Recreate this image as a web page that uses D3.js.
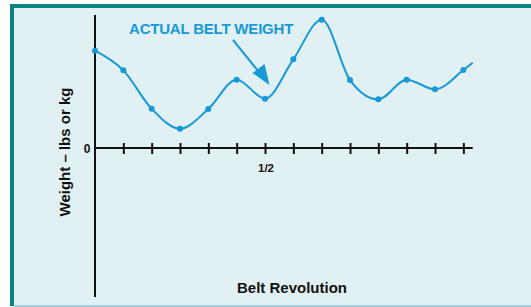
<!DOCTYPE html>
<html lang="en">
<head>
<meta charset="utf-8">
<title>Actual Belt Weight</title>
<script src="https://cdn.jsdelivr.net/npm/d3@7"></script>
<style>
  body { margin: 0; background: #fff; }
  svg { display: block; font-family: "Liberation Sans", Arial, sans-serif; }
</style>
</head>
<body>
<div id="chart"></div>
<script>
// tick positions along the belt (12 ticks = one revolution)
const positions = [0, 1, 2, 3, 4, 5, 6, 7, 8, 9, 10, 11, 12, 13, 13.33];
const weights = [73.2, 58.4, 29.5, 14.5, 29.3, 51.4, 37.1, 66.7, 96.5, 51.1, 36.6, 51.4, 44.1, 58.6, 64.1];
const tickValues = [1, 2, 3, 4, 5, 6, 7, 8, 9, 10, 11, 12, 13];
const tickLabels = {6: "1/2"};

const w = 531, h = 307;
const blue = "#1699d6";

const svg = d3.select("#chart").append("svg")
  .attr("width", w)
  .attr("height", h);

// panel background and frame
svg.append("rect").attr("x", 0).attr("y", 0).attr("width", w).attr("height", h).attr("fill", "#fff");
svg.append("rect").attr("x", 10).attr("y", 4).attr("width", w - 10).attr("height", 302).attr("fill", "#e1f0f2");
svg.append("rect").attr("x", 10).attr("y", 4).attr("width", w - 10).attr("height", 4).attr("fill", "#0a8383");
svg.append("rect").attr("x", 10).attr("y", 4).attr("width", 4).attr("height", 302).attr("fill", "#0a8383");
svg.append("rect").attr("x", 14).attr("y", 305).attr("width", w - 14).attr("height", 2).attr("fill", "#9fd0d8");

const x = d3.scaleLinear().domain([0, 13.33]).range([95, 472.7]);
const y = d3.scaleLinear().domain([-112, 100]).range([297, 15]);

// y axis line
svg.append("line")
  .attr("x1", x(0)).attr("x2", x(0))
  .attr("y1", y(-112)).attr("y2", y(100))
  .attr("stroke", "#111").attr("stroke-width", 2);

// x axis with ticks crossing the line
const xAxis = d3.axisBottom(x)
  .tickValues(tickValues)
  .tickSize(0)
  .tickFormat("");

const gx = svg.append("g")
  .attr("transform", `translate(0,${y(0)})`)
  .call(xAxis);
gx.select(".domain").remove();
gx.append("line")
  .attr("x1", x(0)).attr("x2", x(13.33))
  .attr("stroke", "#111").attr("stroke-width", 2);
gx.selectAll(".tick line")
  .attr("y1", -5).attr("y2", 6)
  .attr("stroke", "#111").attr("stroke-width", 2);

svg.selectAll(".xlab")
  .data(tickValues.filter(d => tickLabels[d]))
  .enter().append("text")
  .attr("class", "xlab")
  .attr("x", d => x(d) + 1)
  .attr("y", y(0) + 24)
  .attr("text-anchor", "middle")
  .attr("font-size", 11.5).attr("font-weight", "bold").attr("fill", "#111")
  .text(d => tickLabels[d]);

svg.append("text")
  .attr("x", 87).attr("y", y(0) + 4.5)
  .attr("text-anchor", "middle")
  .attr("font-size", 12).attr("font-weight", "bold").attr("fill", "#111")
  .text("0");

// axis titles
svg.append("text")
  .attr("x", 292).attr("y", 293)
  .attr("text-anchor", "middle")
  .attr("font-size", 15).attr("font-weight", "bold").attr("fill", "#111")
  .text("Belt Revolution");

svg.append("text")
  .attr("transform", "translate(70,152) rotate(-90)")
  .attr("text-anchor", "middle")
  .attr("font-size", 15).attr("font-weight", "bold").attr("fill", "#111")
  .text("Weight \u2013 lbs or kg");

// curve
const line = d3.line()
  .x((d, i) => x(positions[i]))
  .y(d => y(d))
  .curve(d3.curveMonotoneX);

svg.append("path")
  .datum(weights)
  .attr("d", line)
  .attr("fill", "none")
  .attr("stroke", blue)
  .attr("stroke-width", 2);

svg.selectAll(".dot")
  .data(weights.slice(0, 14))
  .enter().append("circle")
  .attr("class", "dot")
  .attr("cx", (d, i) => x(positions[i]))
  .attr("cy", d => y(d))
  .attr("r", 3)
  .attr("fill", blue);

// annotation
svg.append("text")
  .attr("x", 129).attr("y", 34)
  .attr("font-size", 15).attr("font-weight", "bold").attr("fill", blue)
  .attr("letter-spacing", -0.2)
  .text("ACTUAL BELT WEIGHT");

svg.append("line")
  .attr("x1", 233).attr("y1", 40)
  .attr("x2", 259).attr("y2", 72)
  .attr("stroke", blue).attr("stroke-width", 2);

svg.append("path")
  .attr("d", "M269.5,85 L252.5,73 L264.5,64 Z")
  .attr("fill", blue);
</script>
</body>
</html>
